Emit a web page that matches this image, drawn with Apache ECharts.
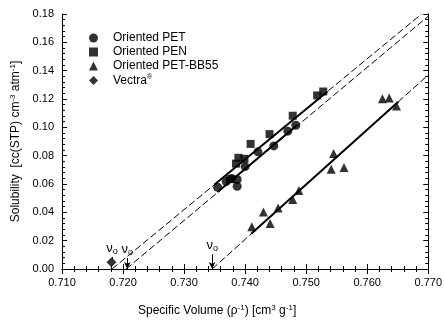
<!DOCTYPE html>
<html>
<head>
<meta charset="utf-8">
<script src="https://cdn.jsdelivr.net/npm/echarts/dist/echarts.min.js"></script>
<style>
  html, body { margin: 0; padding: 0; background: #fff; }
  #main { width: 445px; height: 322px; }
</style>
</head>
<body>
<div id="main"></div>
<script>
// data: [specific volume, solubility]
var petPts = [[0.7355, 0.0577], [0.7369, 0.0618], [0.7378, 0.0639], [0.7387, 0.0632],
              [0.7387, 0.0584], [0.7400, 0.0723], [0.7421, 0.0827], [0.7447, 0.0869],
              [0.7470, 0.0973], [0.7483, 0.1015]];
var penPts = [[0.7375, 0.0634], [0.7385, 0.0744], [0.7389, 0.0785], [0.7399, 0.0778],
              [0.7409, 0.0883], [0.7440, 0.0952], [0.7478, 0.1082], [0.7518, 0.1225],
              [0.7528, 0.1253]];
var bbPts = [[0.7411, 0.0299], [0.7430, 0.0403], [0.7441, 0.0322], [0.7454, 0.0431],
             [0.7478, 0.0491], [0.7488, 0.0554], [0.7541, 0.0704], [0.7545, 0.0815],
             [0.7562, 0.0716], [0.7625, 0.1202], [0.7636, 0.1207], [0.7648, 0.1151]];
var vectraPts = [[0.7181, 0.0048]];

// fitted lines (end points), dashed extrapolation + solid fit range
var penDash = [[0.7182, 0], [0.7689, 0.18]];
var penSolid = [[0.7350, 0.0596], [0.7535, 0.1253]];
var petDash = [[0.7205, 0], [0.7700, 0.1784]];
var petSolid = [[0.7355, 0.0543], [0.7485, 0.1014]];
var bbDash = [[0.7346, 0], [0.7700, 0.1370]];
var bbSolid = [[0.7410, 0.0248], [0.7651, 0.1180]];

// v_o arrows: x, top and bottom of arrow
var voX = [0.7182, 0.7207, 0.7346];
var voTop = [0.0085, 0.0078, 0.0104];
var voBottom = [0.0066, 0, 0];

var chart = echarts.init(document.getElementById('main'));

var FONT = 'Liberation Sans, Arial, sans-serif';

function axisCommon() {
    return {
        axisLine: { lineStyle: { color: '#000', width: 1 } },
        axisTick: { inside: true, length: 5, lineStyle: { color: '#000' } },
        minorTick: { show: true, splitNumber: 5, length: 3, lineStyle: { color: '#000' } },
        splitLine: { show: false },
        minorSplitLine: { show: false }
    };
}

var voMarks = [];
for (var i = 0; i < voX.length; i++) {
    voMarks.push([
        { coord: [voX[i], voTop[i]], symbol: 'none' },
        { coord: [voX[i], voBottom[i]], symbol: i === 0 ? 'none' : 'arrow', symbolSize: [5, 7] }
    ]);
}

function fitLine(data, solid) {
    return {
        type: 'line',
        data: data,
        showSymbol: false,
        silent: true,
        z: 1,
        lineStyle: { color: '#000', width: solid ? 2 : 1, type: solid ? 'solid' : [7, 3] },
        animation: false
    };
}

var sup = { fontSize: 8, verticalAlign: 'top', padding: [0, 0, 6, 0], fontFamily: FONT, color: '#000' };

var option = {
    animation: false,
    backgroundColor: '#fff',
    textStyle: { fontFamily: FONT },
    grid: { left: 62, right: 13, top: 14, bottom: 49 },
    legend: {
        orient: 'vertical',
        left: 89,
        top: 32,
        padding: 0,
        itemWidth: 9,
        itemHeight: 9,
        itemGap: 2,
        data: ['Oriented PET', 'Oriented PEN', 'Oriented PET-BB55', 'Vectra'],
        formatter: function (name) {
            return name === 'Vectra' ? 'Vectra{s|®}' : name;
        },
        textStyle: {
            fontSize: 12, lineHeight: 12, color: '#000', fontFamily: FONT, padding: [0, 0, 0, 10],
            rich: { s: { fontSize: 7, padding: [0, 0, 6, 0], color: '#000' } }
        }
    },
    xAxis: [
        Object.assign({
            type: 'value', position: 'bottom', min: 0.710, max: 0.770, interval: 0.01,
            name: 'Specific Volume ({t|ρ}{s|-1}) [cm{s|3} g{s|-1}]',
            nameLocation: 'middle', nameGap: 35,
            nameTextStyle: {
                fontSize: 12, color: '#000', fontFamily: FONT, padding: [0, 56, 0, 0],
                rich: { s: sup, t: { fontSize: 12, fontFamily: FONT, color: '#000' } }
            },
            axisLabel: { fontSize: 11, color: '#000', margin: 8, formatter: function (v) { return v.toFixed(3); } }
        }, axisCommon()),
        Object.assign({
            type: 'value', position: 'top', min: 0.710, max: 0.770, interval: 0.01,
            axisLabel: { show: false }
        }, axisCommon())
    ],
    yAxis: [
        Object.assign({
            type: 'value', position: 'left', min: 0, max: 0.18, interval: 0.02,
            name: 'Solubility  [cc(STP) cm{s|-3} atm{s|-1}]',
            nameLocation: 'middle', nameGap: 30, nameRotate: 90,
            nameTextStyle: {
                fontSize: 12, color: '#000', fontFamily: FONT,
                rich: { s: sup }
            },
            axisLabel: { fontSize: 11, color: '#000', margin: 8, formatter: function (v) { return v.toFixed(2); } }
        }, axisCommon()),
        Object.assign({
            type: 'value', position: 'right', min: 0, max: 0.18, interval: 0.02,
            axisLabel: { show: false }
        }, axisCommon())
    ],
    series: [
        fitLine(penDash, false), fitLine(penSolid, true),
        fitLine(petDash, false), fitLine(petSolid, true),
        fitLine(bbDash, false), fitLine(bbSolid, true),
        { name: 'Oriented PET', type: 'scatter', data: petPts, symbol: 'circle', symbolSize: 9,
          itemStyle: { color: '#000' }, z: 3 },
        { name: 'Oriented PEN', type: 'scatter', data: penPts, symbol: 'rect', symbolSize: 8,
          itemStyle: { color: '#000' }, z: 3 },
        { name: 'Oriented PET-BB55', type: 'scatter', data: bbPts, symbol: 'triangle', symbolSize: 9,
          itemStyle: { color: '#000' }, z: 3 },
        { name: 'Vectra', type: 'scatter', data: vectraPts, symbol: 'diamond', symbolSize: 10,
          itemStyle: { color: '#000' }, z: 3,
          markLine: {
              silent: true,
              animation: false,
              lineStyle: { color: '#000', width: 1, type: 'solid' },
              label: {
                  show: true, position: 'start', distance: 1,
                  formatter: '{v|ν}{o|o}',
                  rich: {
                      v: { fontSize: 13, color: '#000', fontFamily: FONT },
                      o: { fontSize: 9, color: '#000', fontFamily: FONT, padding: [6, 0, 0, 0] }
                  }
              },
              data: voMarks
          }
        }
    ]
};

chart.setOption(option);
</script>
</body>
</html>
